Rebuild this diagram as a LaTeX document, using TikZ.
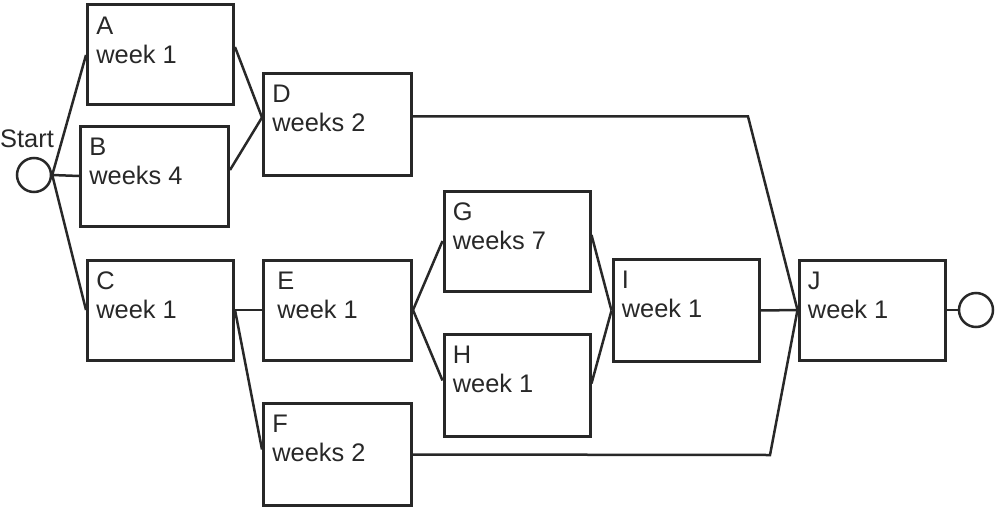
\documentclass[tikz,border=0pt]{standalone}
\usepackage{fontspec}
\setmainfont{Liberation Sans}
\definecolor{ink}{RGB}{40,40,40}
\begin{document}
\begin{tikzpicture}[x=0.5pt,y=-0.5pt,
  every node/.style={font=\fontsize{12.7pt}{14.5pt}\selectfont, text=ink},
  box/.style={draw=ink, line width=1.5pt, rectangle, minimum width=73pt, minimum height=50pt, inner sep=0pt},
  lbl/.style={anchor=north west, align=left, inner sep=0pt, xshift=5pt, yshift=-6.5pt},
  conn/.style={draw=ink, line width=1.25pt},
  evt/.style={draw=ink, line width=1.25pt, circle, minimum size=17pt, inner sep=0pt}]
\useasboundingbox (0,0) rectangle (1000,508);
% events
\node[evt] (S) at (34,175) {};
\node[anchor=base, inner sep=0pt] (St) at (27,148) {Start};
\node[evt] (End) at (976,310) {};
% activities
\node[box, label={[lbl]north west:A\\week 1}] (A) at (160.5,55) {};
\node[box, minimum width=74pt, label={[lbl]north west:B\\weeks 4}] (B) at (154.5,176) {};
\node[box, label={[lbl]north west:C\\week 1}] (C) at (160.5,310) {};
\node[box, minimum width=74pt, minimum height=51pt, label={[lbl]north west:D\\weeks 2}] (D) at (337.5,124.5) {};
\node[box, minimum width=74pt, label={[lbl, xshift=2.5pt]north west:E\\week 1}] (E) at (337.5,310) {};
\node[box, minimum width=74pt, minimum height=51pt, label={[lbl]north west:F\\weeks 2}] (F) at (337.5,454.5) {};
\node[box, label={[lbl]north west:G\\weeks 7}] (G) at (517,241) {};
\node[box, minimum height=51pt, label={[lbl]north west:H\\week 1}] (H) at (517,385.5) {};
\node[box, minimum height=51pt, label={[lbl]north west:I\\week 1}] (I) at (686,310.5) {};
\node[box, label={[lbl]north west:J\\week 1}] (J) at (872,310) {};
% bends
\coordinate (dj) at (748,116.5);
\coordinate (fj) at (770,455);
% connectors
\draw[conn] (S.east) -- (A.west);
\draw[conn] (S.east) -- (B.west);
\draw[conn] (S.east) -- (C.west);
\draw[conn] ([yshift=4pt]A.east) -- ([yshift=3.5pt]D.west);
\draw[conn] ([yshift=3pt]B.east) -- ([yshift=3.5pt]D.west);
\draw[conn] ([yshift=4pt]D.east) -- (dj) -- (J.west);
\draw[conn] (C.east) -- (E.west);
\draw[conn] (C.east) -- ([yshift=2.5pt]F.west);
\draw[conn] (E.east) -- (G.west);
\draw[conn] (E.east) -- ([yshift=2.5pt]H.west);
\draw[conn] ([yshift=3pt]G.east) -- (I.west);
\draw[conn] ([yshift=1pt]H.east) -- (I.west);
\draw[conn] (I.east) -- (J.west);
\draw[conn] (F.east) -- (fj) -- (J.west);
\draw[conn] (J.east) -- (End.west);
\end{tikzpicture}
\end{document}
